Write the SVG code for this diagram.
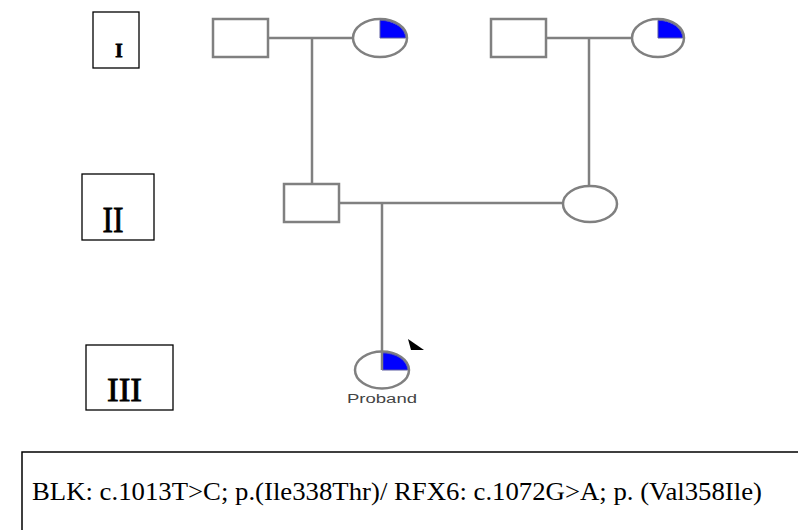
<svg xmlns="http://www.w3.org/2000/svg" width="798" height="530" viewBox="0 0 798 530">
<style>
.lbl{fill:#fff;stroke:#000;stroke-width:1.3}
.gen{font-family:"Liberation Serif","Times New Roman",serif;fill:#000}
.rn{stroke:#000;stroke-width:0.8}
.m{fill:#fff;stroke:#808080;stroke-width:2.5}
.q{fill:#0000ff;stroke:#5a5aa0;stroke-width:1}
.ln{stroke:#808080;stroke-width:2.5;fill:none}
.pb{font-family:"Liberation Sans",Arial,sans-serif;fill:#444}
</style>
<rect width="798" height="530" fill="#fff"/>
<g id="gen-labels">
<g id="label-I"><rect class="lbl" x="93" y="12" width="46" height="56"/><text class="gen rn" x="119" y="57" font-size="19" font-weight="bold" text-anchor="middle">I</text></g>
<g id="label-II"><rect class="lbl" x="82" y="174" width="72" height="66"/><text class="gen rn" x="113" y="232" font-size="35" text-anchor="middle" textLength="21" lengthAdjust="spacingAndGlyphs">II</text></g>
<g id="label-III"><rect class="lbl" x="86" y="345" width="87" height="65"/><text class="gen rn" x="124.5" y="401" font-size="33" text-anchor="middle" textLength="35" lengthAdjust="spacingAndGlyphs">III</text></g>
</g>
<g id="connectors">
<line class="ln" x1="268" y1="38" x2="353" y2="38"/>
<line class="ln" x1="312" y1="38" x2="312" y2="184"/>
<line class="ln" x1="546" y1="38" x2="632" y2="38"/>
<line class="ln" x1="589" y1="38" x2="589" y2="186"/>
<line class="ln" x1="339" y1="203" x2="563" y2="203"/>
<line class="ln" x1="382" y1="203" x2="382" y2="352"/>
</g>
<g id="I-1"><rect class="m" x="213" y="19" width="55" height="38"/></g>
<g id="I-2"><ellipse class="m" cx="380" cy="38" rx="27" ry="19"/><path class="q" d="M380,38 L380,20.3 A25.7,17.7 0 0 1 405.7,38 Z"/></g>
<g id="I-3"><rect class="m" x="491" y="19" width="55" height="38"/></g>
<g id="I-4"><ellipse class="m" cx="658" cy="38" rx="26" ry="19"/><path class="q" d="M658,38 L658,20.3 A24.7,17.7 0 0 1 682.7,38 Z"/></g>
<g id="II-1"><rect class="m" x="284" y="184" width="55" height="38"/></g>
<g id="II-2"><ellipse class="m" cx="590" cy="204" rx="27" ry="18"/></g>
<g id="III-1">
<ellipse class="m" cx="382" cy="370" rx="27" ry="18.5"/>
<path class="q" d="M382,370 L382,352.8 A25.7,17.2 0 0 1 407.7,370 Z"/>
<line class="ln" x1="382" y1="351" x2="382" y2="370"/>
<polygon points="408,339 424,350 411,350" fill="#000"/>
<text class="pb" x="382" y="403" font-size="12.5" text-anchor="middle" textLength="70" lengthAdjust="spacingAndGlyphs">Proband</text>
</g>
<g id="variant-box">
<rect x="22" y="452" width="800" height="100" fill="#fff" stroke="#000" stroke-width="1.5"/>
<text class="gen" x="32" y="500" font-size="26" textLength="730" lengthAdjust="spacingAndGlyphs">BLK: c.1013T&gt;C; p.(Ile338Thr)/ RFX6: c.1072G&gt;A; p. (Val358Ile)</text>
</g>
</svg>
